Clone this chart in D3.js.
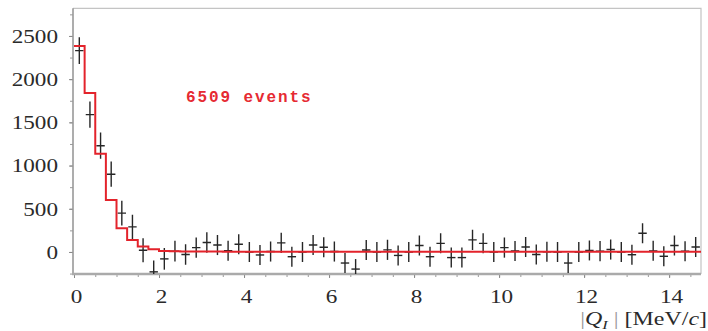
<!DOCTYPE html>
<html>
<head>
<meta charset="utf-8">
<script src="https://cdn.jsdelivr.net/npm/d3@7"></script>
<style>
  html, body { margin: 0; padding: 0; background: #fff; overflow: hidden; }
  svg { display: block; }
</style>
</head>
<body>
<svg id="chart" width="708" height="331"></svg>
<script>
// |Q_I| spectrum: 59 bins of 0.25 MeV/c, measured counts with errors and the fitted histogram
const binWidth = 0.25;
const counts = [
  2330, 1590, 1230, 900, 450, 290, 20, -230, -80, 10,
  -30, 50, 110, 80, 15, 90, 0, -35, 5, 105,
  -55, 0, 80, 55, 5, -128, -198, 22, 0, 24,
  -40, 0, 75, -55, 100, -65, -65, 140, 100, 0,
  50, 12, 58, -30, 2, 0, -128, 0, 18, 10,
  28, 0, -32, 216, 13, -50, 75, 8, 58
];
const errors = [
  155, 152, 152, 146, 144, 142, 138, 132, 125, 120,
  118, 118, 118, 116, 116, 116, 116, 116, 116, 116,
  116, 116, 116, 116, 116, 116, 116, 116, 116, 116,
  116, 116, 116, 116, 116, 116, 116, 116, 116, 116,
  116, 116, 116, 116, 116, 116, 116, 116, 116, 116,
  116, 116, 116, 116, 116, 116, 116, 116, 116
];
const fitCounts = [
  2385, 1840, 1138, 602, 274, 139, 64, 30, 12, 8,
  6, 5, 4, 4, 3, 3, 3, 3, 3, 3,
  3, 3, 3, 3, 3, 3, 3, 3, 3, 3,
  3, 3, 3, 3, 3, 3, 3, 3, 3, 3,
  3, 3, 3, 3, 3, 3, 3, 3, 3, 3,
  3, 3, 3, 3, 3, 3, 3, 3, 3
];
const xMajorTicks = [0, 2, 4, 6, 8, 10, 12, 14];
const xMinorTicks = d3.range(0, 14.75, 0.5);
const yMajorTicks = [0, 500, 1000, 1500, 2000, 2500];
const yMinorTicks = d3.range(-250, 2800, 250);
const eventLabel = "6509 events";

const serif = "'Liberation Serif', 'Times New Roman', 'DejaVu Serif', serif";
const glyphStretch = 1.22;

const svg = d3.select("#chart");
const x = d3.scaleLinear().domain([0, 14.75]).range([74, 701]);
const y = d3.scaleLinear().domain([-255, 2820]).range([274, 8.3]);

const [x0, x1] = x.range();
const [yb, yt] = y.range();

// clip for the data
svg.append("defs").append("clipPath").attr("id", "plot-clip")
  .append("rect").attr("x", x0 - 1).attr("y", yt).attr("width", x1 - x0 + 1).attr("height", yb - yt);

// frame: light top/right borders
svg.append("path")
  .attr("d", `M${x0 - 1},${yt}H${x1}V${yb}`)
  .attr("fill", "none").attr("stroke", "#c4c4c4").attr("stroke-width", 1.2);

// minor ticks
svg.append("g").attr("transform", `translate(0,${yb})`)
  .call(d3.axisBottom(x).tickValues(xMinorTicks).tickSize(3).tickFormat(""))
  .call(g => g.select(".domain").remove())
  .call(g => g.selectAll("line").attr("stroke", "#999"));
svg.append("g").attr("transform", `translate(${x0 - 1},0)`)
  .call(d3.axisLeft(y).tickValues(yMinorTicks).tickSize(3).tickFormat(""))
  .call(g => g.select(".domain").remove())
  .call(g => g.selectAll("line").attr("stroke", "#999"));

// major ticks with labels
const xAxis = svg.append("g").attr("transform", `translate(0,${yb})`)
  .call(d3.axisBottom(x).tickValues(xMajorTicks).tickSize(4).tickFormat(d3.format("d")));
xAxis.select(".domain").remove();
xAxis.selectAll("line").attr("stroke", "#888");
xAxis.selectAll("text")
  .attr("x", 0).attr("y", 0).attr("dy", null)
  .attr("transform", `translate(2,29) scale(${glyphStretch},1)`)
  .attr("fill", "#2a2a2a").style("font-family", serif).style("font-size", "19px");

const yAxis = svg.append("g").attr("transform", `translate(${x0 - 1},0)`)
  .call(d3.axisLeft(y).tickValues(yMajorTicks).tickSize(4).tickFormat(d3.format("d")));
yAxis.select(".domain").remove();
yAxis.selectAll("line").attr("stroke", "#888");
yAxis.selectAll("text")
  .attr("x", 0).attr("dy", null).attr("dominant-baseline", "central")
  .attr("transform", `translate(-15,0) scale(${glyphStretch},1)`)
  .attr("fill", "#2a2a2a").style("font-family", serif).style("font-size", "19px");

// axis lines
svg.append("line").attr("x1", x0 - 1).attr("x2", x0 - 1).attr("y1", yt).attr("y2", yb)
  .attr("stroke", "#999").attr("stroke-width", 1.6);
svg.append("line").attr("x1", x0 - 2).attr("x2", x1).attr("y1", yb).attr("y2", yb)
  .attr("stroke", "#aaa").attr("stroke-width", 2.4);

// data crosses
const plot = svg.append("g").attr("clip-path", "url(#plot-clip)");
const bins = counts.map((c, i) => ({ lo: i * binWidth, hi: (i + 1) * binWidth, c, e: errors[i] }));
const halfBar = 4.2;
const crosses = plot.append("g").attr("stroke", "#262626").attr("stroke-width", 1.4);
crosses.selectAll("line.err").data(bins).join("line").attr("class", "err")
  .attr("x1", d => x((d.lo + d.hi) / 2)).attr("x2", d => x((d.lo + d.hi) / 2))
  .attr("y1", d => y(d.c + d.e)).attr("y2", d => y(d.c - d.e));
crosses.selectAll("line.val").data(bins).join("line").attr("class", "val")
  .attr("x1", d => x((d.lo + d.hi) / 2) - halfBar).attr("x2", d => x((d.lo + d.hi) / 2) + halfBar)
  .attr("y1", d => y(d.c)).attr("y2", d => y(d.c));

// fitted histogram
const fitPts = fitCounts.map((v, i) => [i * binWidth, v]);
fitPts.push([fitCounts.length * binWidth, fitCounts[fitCounts.length - 1]]);
plot.append("path")
  .attr("d", d3.line().x(d => x(d[0])).y(d => y(d[1])).curve(d3.curveStepAfter)(fitPts))
  .attr("fill", "none").attr("stroke", "#e3232b").attr("stroke-width", 2);

// event count annotation
svg.append("text")
  .attr("x", 186).attr("y", 101.5)
  .attr("fill", "#e62a32")
  .style("font-family", "'Liberation Mono', 'DejaVu Sans Mono', monospace")
  .style("font-size", "16px").style("font-weight", "bold").style("letter-spacing", "1.9px")
  .text(eventLabel);

// x-axis title
const title = svg.append("text")
  .attr("text-anchor", "end")
  .attr("transform", `translate(707,325) scale(1.26,1)`)
  .attr("fill", "#2a2a2a").style("font-family", serif).style("font-size", "19px");
title.append("tspan").attr("fill", "#999").text("|");
title.append("tspan").style("font-style", "italic").text("Q");
title.append("tspan").style("font-style", "italic").style("font-size", "13px").attr("dy", 4).text("I");
title.append("tspan").attr("dy", -4).attr("fill", "#999").text(" |");
title.append("tspan").text(" [MeV/");
title.append("tspan").style("font-style", "italic").text("c");
title.append("tspan").text("]");
</script>
</body>
</html>
